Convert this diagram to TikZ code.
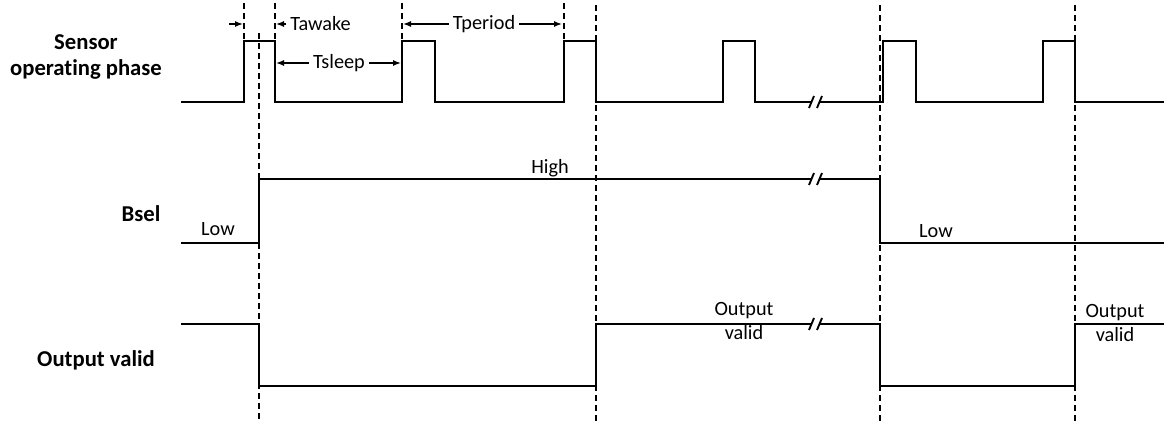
\documentclass[tikz,border=0pt]{standalone}
\usepackage{fontspec}
\setmainfont{Carlito}[Ligatures=NoCommon]
\usetikzlibrary{arrows.meta}

\begin{document}
\begin{tikzpicture}[x=0.75pt,y=-0.75pt,>={Latex[length=6pt,width=4.5pt]},
	wave/.style={line width=1.4pt},
	guide/.style={line width=1pt,dash pattern=on 4.5pt off 3pt},
	span/.style={->,line width=1pt},
	lbl/.style={font=\fontsize{15.2}{18}\selectfont,inner xsep=3pt,inner ysep=1pt,align=center},
	sig/.style={font=\fontsize{17}{19.5}\selectfont\bfseries,align=center}]

\useasboundingbox (0,0) rectangle (1164,421);

% signal names
\node[sig](sensor) at (86,57){Sensor\\operating phase};
\node[sig](bsel) at (141,214){Bsel};
\node[sig](outv) at (96,360){Output valid};

% guide lines
\draw[guide] (259,33)--(259,421) (596,5)--(596,421) (880,5)--(880,421) (1075,5)--(1075,421);
\draw[guide] (244,3)--(244,41) (275,3)--(275,41) (402,3)--(402,41) (564,3)--(564,41);

% waveforms
\draw[wave] (181,102) -| (244,41) -| (275,102) -| (402,41) -| (435,102) -| (564,41) -| (596,102) -| (723,41) -| (755,102) -- (811.5,102);
\draw[wave] (819.5,102) -| (883,41) -| (916,102) -| (1043,41) -| (1075,102) -- (1164,102);
\draw[wave] (181,243) -| (259,179) -- (811.5,179);
\draw[wave] (819.5,179) -| (880,243) -- (1164,243);
\draw[wave] (181,324) -| (259,386) -| (596,324) -- (811.5,324);
\draw[wave] (819.5,324) -| (880,386) -| (1075,324) -- (1164,324);

% breaks
\foreach \yy in {102,179,324}
	\draw[wave] (809,\yy+6)--(814,\yy-6) (817,\yy+6)--(822,\yy-6);

% levels
\node[lbl](low1) at (218,229){Low};
\node[lbl](high) at (550,168){High};
\node[lbl](low2) at (936,231){Low};
\node[lbl](valid1) at (744,321){Output\\valid};
\node[lbl](valid2) at (1115,323){Output\\valid};

% timings
\coordinate(w0) at (229,24);
\coordinate(w1) at (243,24);
\coordinate(w2) at (276,24);
\coordinate(s1) at (276,63);
\coordinate(s2) at (401,63);
\coordinate(p1) at (403,24);
\coordinate(p2) at (562,24);
\node[lbl,anchor=west](tawake) at (286,24){Tawake};
\node[lbl](tsleep) at (339,63){Tsleep};
\node[lbl](tperiod) at (484,24){Tperiod};

\draw[span] (w0)--(w1);
\draw[span] (tawake.west)--(w2);
\draw[span] (tsleep.west)--(s1);
\draw[span] (tsleep.east)--(s2);
\draw[span] (tperiod.west)--(p1);
\draw[span] (tperiod.east)--(p2);

\end{tikzpicture}
\end{document}
